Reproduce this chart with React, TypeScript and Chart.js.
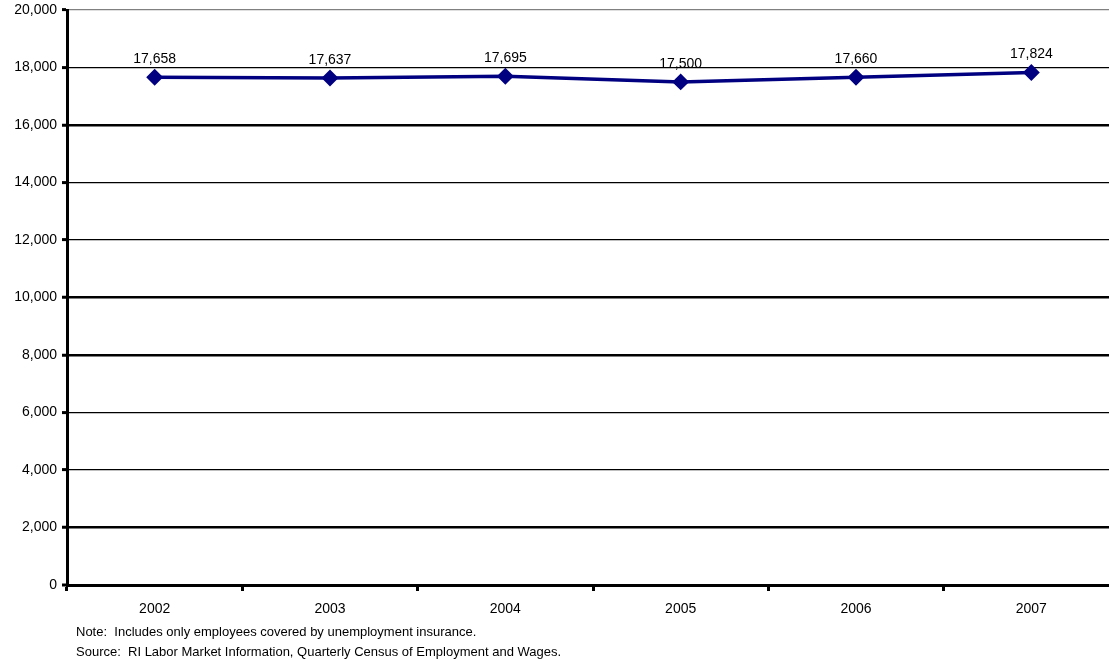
import React, { useEffect, useRef } from "react";
import { Chart, registerables } from "chart.js";

Chart.register(...registerables);

const years = ["2002", "2003", "2004", "2005", "2006", "2007"];
const employment = [17658, 17637, 17695, 17500, 17660, 17824];
const yMin = 0;
const yMax = 20000;
const yStep = 2000;
const noteLine = "Note:  Includes only employees covered by unemployment insurance.";
const sourceLine = "Source:  RI Labor Market Information, Quarterly Census of Employment and Wages.";

const thickLines = [2000, 8000, 10000, 16000];

const FONT = "'Liberation Sans', Arial, sans-serif";

const labelPlugin = {
  id: "pointLabels",
  afterDatasetsDraw(chart: any) {
    const ctx = chart.ctx;
    const meta = chart.getDatasetMeta(0);
    const data = chart.data.datasets[0].data as number[];
    ctx.save();
    ctx.font = `14px ${FONT}`;
    ctx.fillStyle = "#000";
    ctx.textAlign = "center";
    ctx.textBaseline = "middle";
    meta.data.forEach((pt: any, i: number) => {
      ctx.fillText(data[i].toLocaleString("en-US"), pt.x, pt.y - 18);
    });
    ctx.restore();
  },
};

export default function App() {
  const ref = useRef<HTMLCanvasElement | null>(null);
  useEffect(() => {
    if (!ref.current) return;
    const chart = new Chart(ref.current, {
      type: "line",
      data: {
        labels: years,
        datasets: [
          {
            data: employment,
            borderColor: "#000080",
            backgroundColor: "#000080",
            borderWidth: 3.5,
            pointStyle: "rectRot",
            pointRadius: 6,
            pointHoverRadius: 6,
            pointBackgroundColor: "#000080",
            pointBorderColor: "#000080",
            tension: 0,
          },
        ],
      },
      options: {
        animation: false,
        responsive: false,
        maintainAspectRatio: false,
        events: [],
        layout: { autoPadding: false, padding: { top: 10, right: 1, left: 0, bottom: 0 } },
        plugins: {
          legend: { display: false },
          tooltip: { enabled: false },
          title: { display: false },
        },
        scales: {
          x: {
            offset: true,
            grid: {
              offset: true,
              drawOnChartArea: false,
              drawTicks: true,
              tickLength: 6,
              tickWidth: 3,
              tickColor: "#000",
            },
            border: { display: true, color: "#000", width: 3 },
            ticks: {
              color: "#000",
              font: { family: FONT, size: 14 },
              padding: 10,
              maxRotation: 0,
            },
            afterFit(scale: any) {
              scale.height = 75;
              scale.paddingLeft = 0;
              scale.paddingRight = 0;
            },
          },
          y: {
            min: yMin,
            max: yMax,
            grid: {
              drawTicks: true,
              tickLength: 5,
              tickWidth: 3,
              tickColor: "#000",
              color: (c: any) => (c.tick && c.tick.value === yMax ? "#808080" : "#000"),
              lineWidth: (c: any) =>
                c.tick && c.tick.value === 0
                  ? 0
                  : c.tick && thickLines.includes(c.tick.value)
                  ? 2.5
                  : 1.2,
            },
            border: { display: true, color: "#000", width: 3 },
            ticks: {
              stepSize: yStep,
              color: "#000",
              font: { family: FONT, size: 14 },
              padding: 5,
              callback: (v: any) => Number(v).toLocaleString("en-US"),
            },
            afterFit(scale: any) {
              scale.width = 67;
              scale.paddingTop = 0;
              scale.paddingBottom = 0;
            },
          },
        },
      },
      plugins: [labelPlugin],
    });
    return () => chart.destroy();
  }, []);

  return (
    <div
      style={{
        position: "fixed",
        left: 0,
        top: 0,
        width: 1109,
        height: 660,
        overflow: "hidden",
        background: "#fff",
      }}
    >
      <canvas ref={ref} width={1120} height={660} style={{ display: "block" }} />
      <div
        style={{
          position: "absolute",
          left: 76,
          top: 622,
          fontFamily: FONT,
          fontSize: 13,
          lineHeight: "20px",
          color: "#000",
          whiteSpace: "pre",
        }}
      >
        <div>{noteLine}</div>
        <div>{sourceLine}</div>
      </div>
    </div>
  );
}
